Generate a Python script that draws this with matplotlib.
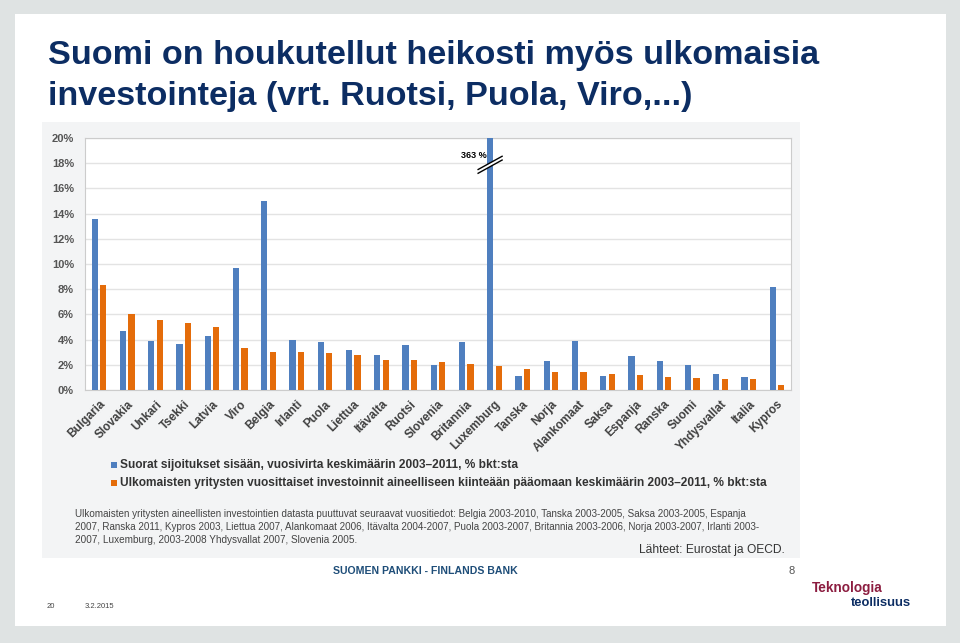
import matplotlib.pyplot as plt
from matplotlib.patches import Rectangle, Polygon
import numpy as np

# chart data
countries = ["Bulgaria", "Slovakia", "Unkari", "Tsekki", "Latvia", "Viro", "Belgia",
             "Irlanti", "Puola", "Liettua", "Itävalta", "Ruotsi", "Slovenia", "Britannia",
             "Luxemburg", "Tanska", "Norja", "Alankomaat", "Saksa", "Espanja", "Ranska",
             "Suomi", "Yhdysvallat", "Italia", "Kypros"]
fdi_inflow = [13.55, 4.65, 3.85, 3.65, 4.3, 9.7, 15.0, 4.0, 3.8, 3.2, 2.8, 3.6, 2.0,
              3.8, 363.0, 1.1, 2.3, 3.9, 1.15, 2.7, 2.3, 2.0, 1.25, 1.0, 8.2]
foreign_capex = [8.3, 6.0, 5.55, 5.35, 5.0, 3.35, 3.0, 3.0, 2.9, 2.8, 2.35, 2.35, 2.2,
                 2.05, 1.9, 1.7, 1.45, 1.4, 1.3, 1.2, 1.0, 0.95, 0.9, 0.85, 0.4]
y_ticks = [0, 2, 4, 6, 8, 10, 12, 14, 16, 18, 20]
legend_labels = ["Suorat sijoitukset sisään, vuosivirta keskimäärin 2003–2011, % bkt:sta",
                 "Ulkomaisten yritysten vuosittaiset investoinnit aineelliseen kiinteään "
                 "pääomaan keskimäärin 2003–2011, % bkt:sta"]
note_lines = ["Ulkomaisten yritysten aineellisten investointien datasta puuttuvat seuraavat vuositiedot: "
              "Belgia 2003-2010, Tanska 2003-2005, Saksa 2003-2005, Espanja",
              "2007, Ranska 2011, Kypros 2003, Liettua 2007, Alankomaat 2006, Itävalta 2004-2007, "
              "Puola 2003-2007, Britannia 2003-2006, Norja 2003-2007, Irlanti 2003-",
              "2007, Luxemburg, 2003-2008 Yhdysvallat 2007, Slovenia 2005."]

blue = "#4f7fbf"
orange = "#e46c0a"
navy = "#0c2d63"
FONT = "Liberation Sans"

fig = plt.figure(figsize=(9.6, 6.43), dpi=100)
fig.patch.set_facecolor("#dfe3e3")
W, H = 960, 643
renderer = fig.canvas.get_renderer()


def fx(px):
    return px / W


def fy(py):
    return 1 - py / H


def fit(t, width_px):
    # shrink/grow a text so it spans the same width as on the slide
    w = t.get_window_extent(renderer).width
    t.set_fontsize(t.get_fontsize() * width_px / w)
    return t


# white slide + pale chart panel
fig.add_artist(Rectangle((fx(15), fy(626)), fx(946) - fx(15), fy(14) - fy(626),
                         transform=fig.transFigure, facecolor="white", edgecolor="none", zorder=0))
fig.add_artist(Rectangle((fx(42), fy(558)), fx(800) - fx(42), fy(122) - fy(558),
                         transform=fig.transFigure, facecolor="#f3f4f5", edgecolor="none", zorder=0))

# title
t1 = fig.text(fx(48), fy(64), "Suomi on houkutellut heikosti myös ulkomaisia", fontsize=22,
              fontweight="bold", color=navy, family=FONT, va="baseline")
fit(t1, 772)
fig.text(fx(48), fy(105), "investointeja (vrt. Ruotsi, Puola, Viro,...)", fontsize=t1.get_fontsize(),
         fontweight="bold", color=navy, family=FONT, va="baseline")

ax = fig.add_axes([fx(85), fy(390), fx(791) - fx(85), fy(138) - fy(390)])
x = np.arange(len(countries))
bw = 0.22
ax.bar(x - 0.15, fdi_inflow, bw, color=blue, zorder=3)
ax.bar(x + 0.15, foreign_capex, bw, color=orange, zorder=3)

ax.set_xlim(-0.5, len(countries) - 0.5)
ax.set_ylim(0, 20)
ax.set_yticks(y_ticks)
ax.set_yticklabels([f"{t}%" for t in y_ticks], fontsize=8, fontweight="bold",
                   color="#555555", family=FONT)
ax.set_xticks(x)
ax.set_xticklabels(countries, rotation=45, ha="right", rotation_mode="anchor",
                   fontsize=8.5, fontweight="bold", color="#404040", family=FONT)
ax.tick_params(axis="y", length=0, pad=8)
ax.tick_params(axis="x", length=0, pad=6)
ax.grid(axis="y", color="#e3e3e3", linewidth=1, zorder=0)
for s in ax.spines.values():
    s.set_color("#cccccc")

# Luxemburg break mark
lux = countries.index("Luxemburg")
x0, x1 = lux - 0.58, lux + 0.27
brk = Polygon([[x0, 17.2], [x1, 18.25], [x1, 18.55], [x0, 17.5]], closed=True,
              facecolor="white", edgecolor="none", zorder=5, clip_on=False)
ax.add_patch(brk)
ax.plot([x0, x1], [17.2, 18.25], color="black", lw=1, zorder=6, clip_on=False)
ax.plot([x0, x1], [17.5, 18.55], color="black", lw=1, zorder=6, clip_on=False)
ax.text(lux - 0.72, 18.65, "363 %", fontsize=6.5, fontweight="bold", ha="center",
        va="center", family=FONT, zorder=6)

# legend
for py, col, lab, wpx in [(465, blue, legend_labels[0], 396), (483, orange, legend_labels[1], 642)]:
    fig.add_artist(Rectangle((fx(111), fy(py + 3)), fx(6), 6 / H, transform=fig.transFigure,
                             facecolor=col, edgecolor="none"))
    t = fig.text(fx(120), fy(py), lab, fontsize=10, fontweight="bold", color="#333333",
                 family=FONT, va="center")
    fit(t, wpx)

for py, line, wpx in [(514, note_lines[0], 676), (527, note_lines[1], 690), (540, note_lines[2], 283)]:
    t = fig.text(fx(75), fy(py), line, fontsize=8, color="#444444", family=FONT, va="center")
    fit(t, wpx)
t = fig.text(fx(785), fy(550), "Lähteet: Eurostat ja OECD.", fontsize=10, color="#333333",
             family=FONT, ha="right", va="center")
fit(t, 145)

# footer
t = fig.text(fx(333), fy(571), "SUOMEN PANKKI - FINLANDS BANK", fontsize=8, fontweight="bold",
             color="#1f4e79", family=FONT, va="center")
fit(t, 185)
fig.text(fx(792), fy(571), "8", fontsize=8, color="#555555", ha="center", va="center", family=FONT)
fig.text(fx(47), fy(607), "20", fontsize=5.5, color="#444444", va="center", family=FONT)
fig.text(fx(85), fy(607), "3.2.2015", fontsize=5.5, color="#444444", va="center", family=FONT)
t = fig.text(fx(812), fy(592), "Teknologia", fontsize=8.5, fontweight="bold", color="#8c1d40",
             va="baseline", family=FONT)
fit(t, 71)
t = fig.text(fx(851), fy(606), "teollisuus", fontsize=8.5, fontweight="bold", color="#0c2d63",
             va="baseline", family=FONT)
fit(t, 61)

fig.savefig("out.png", dpi=100, facecolor=fig.get_facecolor())
